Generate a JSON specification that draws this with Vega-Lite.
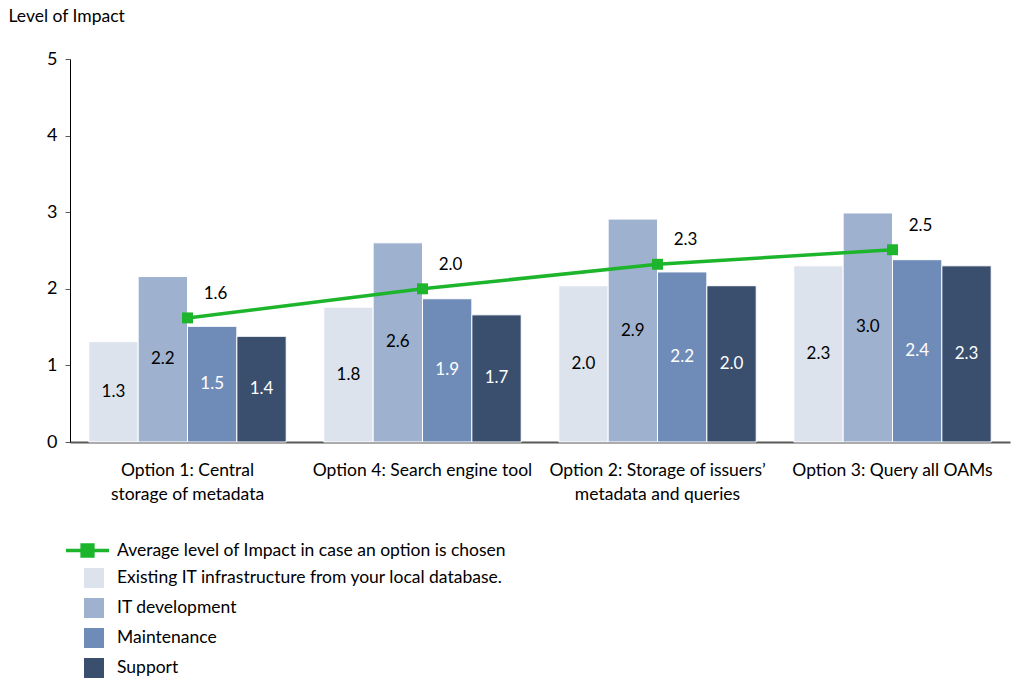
{
  "$schema": "https://vega.github.io/schema/vega-lite/v6.json",
  "width": 940,
  "height": 383,
  "autosize": "none",
  "padding": {"left": 70, "top": 59, "right": 1, "bottom": 239},
  "background": "white",
  "config": {
    "font": "Lato",
    "view": {"stroke": null}
  },
  "datasets": {
    "bars": [
      {"option": "Option 1: Central|storage of metadata", "series": "Existing IT infrastructure from your local database.", "value": 1.31},
      {"option": "Option 1: Central|storage of metadata", "series": "IT development", "value": 2.16},
      {"option": "Option 1: Central|storage of metadata", "series": "Maintenance", "value": 1.51},
      {"option": "Option 1: Central|storage of metadata", "series": "Support", "value": 1.38},
      {"option": "Option 4: Search engine tool", "series": "Existing IT infrastructure from your local database.", "value": 1.76},
      {"option": "Option 4: Search engine tool", "series": "IT development", "value": 2.6},
      {"option": "Option 4: Search engine tool", "series": "Maintenance", "value": 1.87},
      {"option": "Option 4: Search engine tool", "series": "Support", "value": 1.66},
      {"option": "Option 2: Storage of issuers’|metadata and queries", "series": "Existing IT infrastructure from your local database.", "value": 2.04},
      {"option": "Option 2: Storage of issuers’|metadata and queries", "series": "IT development", "value": 2.91},
      {"option": "Option 2: Storage of issuers’|metadata and queries", "series": "Maintenance", "value": 2.22},
      {"option": "Option 2: Storage of issuers’|metadata and queries", "series": "Support", "value": 2.04},
      {"option": "Option 3: Query all OAMs", "series": "Existing IT infrastructure from your local database.", "value": 2.3},
      {"option": "Option 3: Query all OAMs", "series": "IT development", "value": 2.99},
      {"option": "Option 3: Query all OAMs", "series": "Maintenance", "value": 2.38},
      {"option": "Option 3: Query all OAMs", "series": "Support", "value": 2.3}
    ],
    "avg": [
      {"option": "Option 1: Central|storage of metadata", "avg": 1.62, "name": "Average level of Impact in case an option is chosen"},
      {"option": "Option 4: Search engine tool", "avg": 2.0, "name": "Average level of Impact in case an option is chosen"},
      {"option": "Option 2: Storage of issuers’|metadata and queries", "avg": 2.32, "name": "Average level of Impact in case an option is chosen"},
      {"option": "Option 3: Query all OAMs", "avg": 2.51, "name": "Average level of Impact in case an option is chosen"}
    ]
  },
  "resolve": {"scale": {"y": "independent"}},
  "layer": [
    {
      "data": {"name": "bars"},
      "mark": {"type": "bar", "stroke": "white", "strokeWidth": 1},
      "encoding": {
        "x": {
          "field": "option", "type": "nominal", "sort": null,
          "scale": {"paddingInner": 0.16, "paddingOuter": 0.08},
          "axis": {
            "title": null, "labelAngle": 0, "ticks": false,
            "domainColor": "#595959", "domainWidth": 2,
            "labelFontSize": 17.5, "labelColor": "black", "labelPadding": 19,
            "labelLineHeight": 24, "labelLimit": 0, "labelOverlap": false,
            "labelExpr": "split(datum.value, '|')"
          }
        },
        "xOffset": {"field": "series", "type": "nominal", "sort": null, "scale": {"paddingInner": 0, "paddingOuter": 0}},
        "y": {
          "field": "value", "type": "quantitative",
          "scale": {"domain": [0, 5], "nice": false},
          "axis": {
            "title": "Level of Impact", "titleAngle": 0, "titleAlign": "left",
            "titleBaseline": "top", "titleX": -62, "titleY": -52,
            "titleFontSize": 17.5, "titleFontWeight": "normal", "titleColor": "black",
            "values": [0, 1, 2, 3, 4, 5], "grid": false,
            "labelOverlap": false, "labelFlush": false, "labelBound": false,
            "domainColor": "black", "tickColor": "#595959", "tickSize": 5,
            "labelFontSize": 18, "labelColor": "black", "labelPadding": 8
          }
        },
        "color": {
          "field": "series", "type": "nominal", "sort": null,
          "scale": {
            "domain": ["Existing IT infrastructure from your local database.", "IT development", "Maintenance", "Support"],
            "range": ["#dde3ed", "#9eb1cf", "#6f8cb8", "#3a4e6e"]
          },
          "legend": {
            "title": null, "orient": "none", "legendX": 14, "legendY": 509,
            "symbolType": "square", "symbolSize": 400, "symbolStrokeWidth": 0,
            "symbolOpacity": 1, "labelFontSize": 17.5, "labelColor": "black",
            "labelOffset": 13, "rowPadding": 10, "labelLimit": 600
          }
        }
      }
    },
    {
      "data": {"name": "bars"},
      "mark": {"type": "text", "fontSize": 17, "baseline": "middle"},
      "encoding": {
        "x": {"field": "option", "type": "nominal", "sort": null},
        "xOffset": {"field": "series", "type": "nominal", "sort": null},
        "y": {"field": "value", "type": "quantitative", "scale": {"domain": [0, 10], "nice": false}, "axis": null},
        "text": {"field": "value", "type": "quantitative", "format": ".1f"},
        "color": {
          "condition": {"test": "datum.series === 'Maintenance' || datum.series === 'Support'", "value": "white"},
          "value": "black"
        }
      }
    },
    {
      "data": {"name": "avg"},
      "mark": {"type": "line", "strokeWidth": 3.5},
      "encoding": {
        "x": {"field": "option", "type": "nominal", "sort": null},
        "y": {"field": "avg", "type": "quantitative", "scale": {"domain": [0, 5], "nice": false}, "axis": null},
        "stroke": {
          "field": "name", "type": "nominal",
          "scale": {"range": ["#1db52b"]},
          "legend": {
            "title": null, "orient": "none", "legendX": -6, "legendY": 468,
            "symbolType": "M-1,0L1,0M-0.25,-0.25L0.25,-0.25L0.25,0.25L-0.25,0.25Z",
            "symbolSize": 1850, "symbolStrokeWidth": 3.5, "symbolFillColor": "#1db52b",
            "labelFontSize": 17.5, "labelColor": "black", "labelOffset": 6, "labelLimit": 600
          }
        }
      }
    },
    {
      "data": {"name": "avg"},
      "mark": {"type": "point", "shape": "square", "filled": true, "size": 120, "color": "#1db52b", "opacity": 1},
      "encoding": {
        "x": {"field": "option", "type": "nominal", "sort": null},
        "y": {"field": "avg", "type": "quantitative", "scale": {"domain": [0, 5], "nice": false}, "axis": null}
      }
    },
    {
      "data": {"name": "avg"},
      "mark": {"type": "text", "fontSize": 17, "dx": 28, "dy": -24, "color": "black"},
      "encoding": {
        "x": {"field": "option", "type": "nominal", "sort": null},
        "y": {"field": "avg", "type": "quantitative", "scale": {"domain": [0, 5], "nice": false}, "axis": null},
        "text": {"field": "avg", "type": "quantitative", "format": ".1f"}
      }
    }
  ]
}
